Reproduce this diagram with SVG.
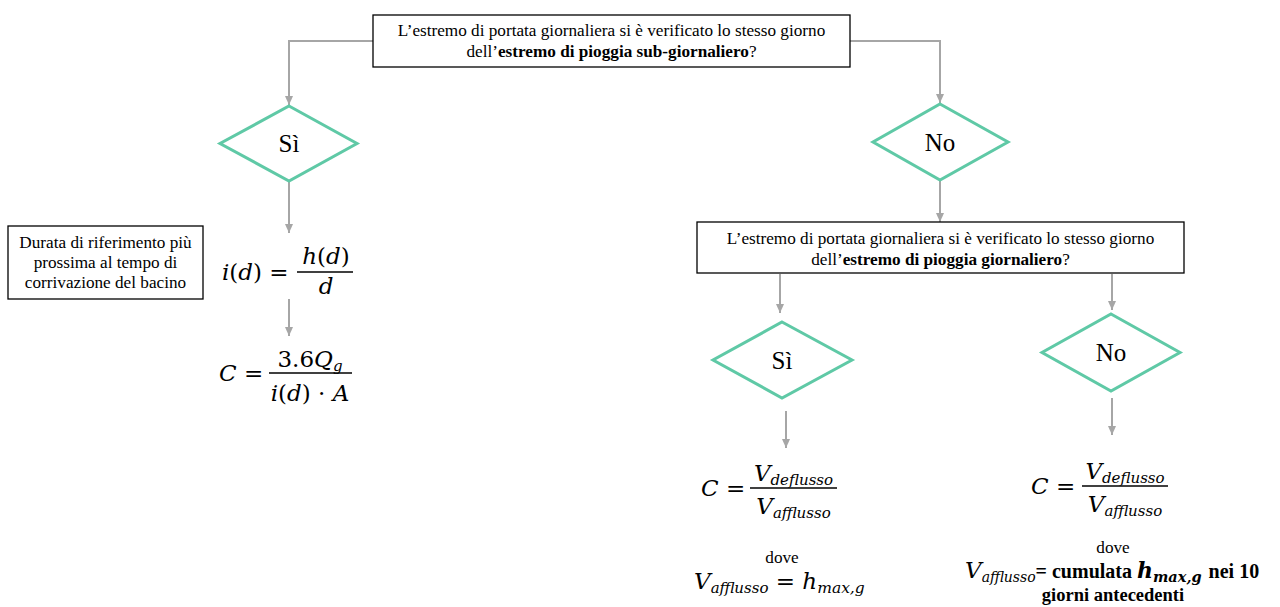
<svg xmlns="http://www.w3.org/2000/svg" width="1280" height="607" viewBox="0 0 1280 607">
<style>
.box{fill:#fff;stroke:#000;stroke-width:1.3}
.dia{fill:#fff;stroke:#5fc9a6;stroke-width:3}
.bar{stroke:#000;stroke-width:1.3}
.c{fill:none;stroke:#a6a6a6;stroke-width:2}
</style>
<defs>
<marker id="ah" markerUnits="userSpaceOnUse" markerWidth="10" markerHeight="10" refX="9" refY="5" orient="auto">
<path d="M0,1 L9,5 L0,9 z" fill="#a6a6a6"/>
</marker>
</defs>
<g id="connectors">
<path class="c" d="M373,41 H289 V105" marker-end="url(#ah)"/>
<path class="c" d="M850,41 H940 V103" marker-end="url(#ah)"/>
<path class="c" d="M289,182 V233" marker-end="url(#ah)"/>
<path class="c" d="M289,299 V336" marker-end="url(#ah)"/>
<path class="c" d="M940,181 V222" marker-end="url(#ah)"/>
<path class="c" d="M780,274 V313" marker-end="url(#ah)"/>
<path class="c" d="M1112,274 V310" marker-end="url(#ah)"/>
<path class="c" d="M786,411 V448" marker-end="url(#ah)"/>
<path class="c" d="M1112,398 V435" marker-end="url(#ah)"/>
</g>
<g font-family="Liberation Serif, serif" font-size="17.2" fill="#000">
<g id="q1">
<rect class="box" x="373" y="15" width="477" height="52"/>
<text x="611.5" y="36" text-anchor="middle">L’estremo di portata giornaliera si è verificato lo stesso giorno</text>
<text x="611.5" y="57" text-anchor="middle">dell’<tspan font-weight="bold">estremo di pioggia sub-giornaliero</tspan>?</text>
</g>
<g id="si1">
<polygon class="dia" points="289,106 357,143.5 289,181 220,143.5"/>
<text x="289" y="152" font-size="25" text-anchor="middle">Sì</text>
</g>
<g id="no1">
<polygon class="dia" points="940,104 1008,142 940,180 873,142"/>
<text x="940" y="151" font-size="25" text-anchor="middle">No</text>
</g>
<g id="note">
<rect class="box" x="8" y="226" width="195" height="73"/>
<text x="105.5" y="248" text-anchor="middle">Durata di riferimento più</text>
<text x="105.5" y="268" text-anchor="middle">prossima al tempo di</text>
<text x="105.5" y="288" text-anchor="middle">corrivazione del bacino</text>
</g>
<g id="q2">
<rect class="box" x="697" y="222" width="487" height="51"/>
<text x="940.5" y="244" text-anchor="middle">L’estremo di portata giornaliera si è verificato lo stesso giorno</text>
<text x="940.5" y="265" text-anchor="middle">dell’<tspan font-weight="bold">estremo di pioggia giornaliero</tspan>?</text>
</g>
<g id="si2">
<polygon class="dia" points="782,322 852,360 782,398 713,360"/>
<text x="782" y="369" font-size="25" text-anchor="middle">Sì</text>
</g>
<g id="no2">
<polygon class="dia" points="1111,314 1180,352.5 1111,391 1042,352.5"/>
<text x="1111" y="361" font-size="25" text-anchor="middle">No</text>
</g>
</g>
<g font-family="DejaVu Serif, serif" font-size="23" font-style="italic" fill="#000">
<g id="eq-i">
<text x="222" y="280">i<tspan font-style="normal">(</tspan>d<tspan font-style="normal">) =</tspan></text>
<line class="bar" x1="297" y1="272" x2="353" y2="272"/>
<text x="326" y="264" text-anchor="middle">h<tspan font-style="normal">(</tspan>d<tspan font-style="normal">)</tspan></text>
<text x="326" y="294" text-anchor="middle">d</text>
</g>
<g id="eq-c1">
<text x="219" y="381">C<tspan font-style="normal"> =</tspan></text>
<line class="bar" x1="269" y1="373" x2="352" y2="373"/>
<text x="310" y="367" text-anchor="middle"><tspan font-style="normal">3.6</tspan>Q<tspan font-size="15" dy="4">g</tspan></text>
<text x="310" y="401" text-anchor="middle">i<tspan font-style="normal">(</tspan>d<tspan font-style="normal">) · </tspan>A</text>
</g>
<g id="eq-c2">
<text x="701" y="496">C<tspan font-style="normal"> =</tspan></text>
<line class="bar" x1="750" y1="488" x2="837" y2="488"/>
<text x="793.5" y="481" text-anchor="middle">V<tspan font-size="15" dy="4">deflusso</tspan></text>
<text x="793.5" y="514" text-anchor="middle">V<tspan font-size="15" dy="4">afflusso</tspan></text>
<text x="782" y="563" font-family="Liberation Serif, serif" font-style="normal" font-size="17.2" text-anchor="middle">dove</text>
<text x="694" y="589">V<tspan font-size="15" dy="4">afflusso</tspan><tspan font-style="normal" dy="-4"> = </tspan>h<tspan font-size="15.5" dy="4">max,g</tspan></text>
</g>
<g id="eq-c3">
<text x="1031" y="494">C<tspan font-style="normal"> =</tspan></text>
<line class="bar" x1="1082" y1="486" x2="1168" y2="486"/>
<text x="1125" y="479" text-anchor="middle">V<tspan font-size="15" dy="4">deflusso</tspan></text>
<text x="1125" y="512" text-anchor="middle">V<tspan font-size="15" dy="4">afflusso</tspan></text>
<text x="1113" y="553" font-family="Liberation Serif, serif" font-style="normal" font-size="17.2" text-anchor="middle">dove</text>
<text x="965" y="578">V<tspan font-size="14" dy="4">afflusso</tspan><tspan font-family="Liberation Serif, serif" font-style="normal" font-weight="bold" font-size="20" dy="-4">= cumulata </tspan><tspan font-weight="bold" font-size="22">h</tspan><tspan font-weight="bold" font-size="14.5" dy="4">max,g</tspan><tspan font-family="Liberation Serif, serif" font-style="normal" font-weight="bold" font-size="20" dy="-4" dx="7">nei 10</tspan></text>
<text x="1113" y="601" font-family="Liberation Serif, serif" font-style="normal" font-weight="bold" font-size="18.5" text-anchor="middle">giorni antecedenti</text>
</g>
</g>
</svg>
